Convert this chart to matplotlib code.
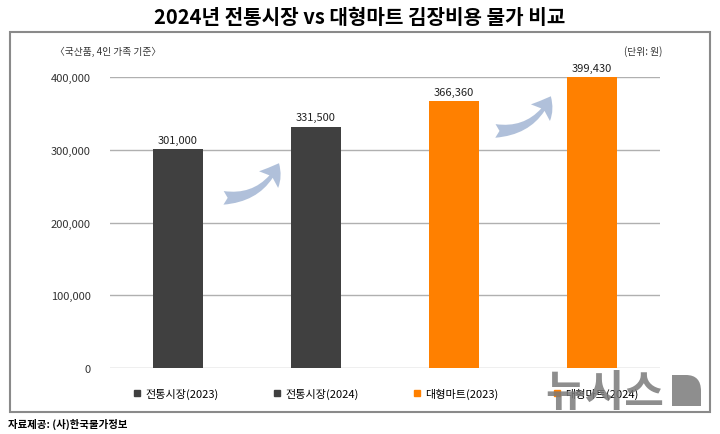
import matplotlib.pyplot as plt
from matplotlib.patches import Rectangle, FancyArrowPatch, PathPatch
from matplotlib.path import Path
from matplotlib.lines import Line2D

plt.rcParams['font.family'] = ['Noto Sans CJK KR', 'DejaVu Sans']

# Data
categories = ['전통시장(2023)', '전통시장(2024)', '대형마트(2023)', '대형마트(2024)']
values = [301000, 331500, 366360, 399430]
colors = ['#404040', '#404040', '#ff8000', '#ff8000']
yticks = [0, 100000, 200000, 300000, 400000]

W, H = 720, 435
fig = plt.figure(figsize=(7.2, 4.35), dpi=100)


def fx(px):
    return px / W


def fy(py):
    return 1 - py / H


# outer frame
fig.add_artist(Rectangle((fx(10), fy(413)), 700 / W, 380 / H,
                         transform=fig.transFigure, fill=False,
                         edgecolor='#8a8a8a', linewidth=1.5))

ax = fig.add_axes([fx(110), fy(369), 550 / W, 291 / H])
x = list(range(len(values)))
ax.bar(x, values, width=0.36, color=colors, zorder=3)
for xi, v in zip(x, values):
    ax.text(xi, v + 6000, f'{v:,}', ha='center', va='bottom', fontsize=8, color='#222222')

ax.set_xlim(-0.493, 3.493)
ax.set_ylim(0, 400000)
ax.set_yticks(yticks)
ax.set_yticklabels([f'{t:,}' for t in yticks], fontsize=8, color='#333333')
ax.tick_params(axis='y', length=0, pad=14)
ax.set_xticks([])
ax.grid(axis='y', color='#b0b0b0', linewidth=1, zorder=0)
for s in ax.spines.values():
    s.set_visible(False)

# curved arrows
for (x0, y0), (x1, y1) in [((0.31, 234000), (0.74, 285000)),
                           ((2.28, 326000), (2.71, 377000))]:
    ax.add_patch(FancyArrowPatch((x0, y0), (x1, y1), connectionstyle='arc3,rad=0.35',
                                 arrowstyle='fancy,head_width=1.3,head_length=1.0,tail_width=0.7',
                                 mutation_scale=14, color='#a8bad6', alpha=0.9, lw=0, zorder=4))

# legend
handles = [Line2D([], [], marker='s', linestyle='none', markersize=5, color=c) for c in colors]
ax.legend(handles, categories, ncol=4, loc='upper center', bbox_to_anchor=(0.5, -0.035),
          frameon=False, fontsize=8, handletextpad=0.3, columnspacing=4.7, handlelength=1)

# title and notes
fig.text(0.5, fy(17), '2024년 전통시장 vs 대형마트 김장비용 물가 비교',
         ha='center', va='center', fontsize=14.5, fontweight='bold')
fig.text(fx(55), fy(52), '〈국산품, 4인 가족 기준〉', ha='left', va='center',
         fontsize=7, color='#333333')
fig.text(fx(662), fy(52), '(단위: 원)', ha='right', va='center',
         fontsize=7, color='#333333')
fig.text(fx(8), fy(424), '자료제공: (사)한국물가정보', ha='left', va='center',
         fontsize=7.5, fontweight='bold')

# watermark
fig.text(fx(605), fy(393), '뉴시스', ha='center', va='center', fontsize=31,
         fontweight='bold', color='#7a7a7a', alpha=0.85)
d_verts = [(672, 407), (672, 376), (686, 376), (701, 376), (701, 392), (701, 407), (672, 407)]
d_codes = [Path.MOVETO, Path.LINETO, Path.LINETO, Path.CURVE3, Path.CURVE3, Path.LINETO,
           Path.CLOSEPOLY]
d_path = Path([(fx(a), fy(b)) for a, b in d_verts], d_codes)
fig.add_artist(PathPatch(d_path, transform=fig.transFigure, color='#7a7a7a', alpha=0.85, lw=0))

fig.savefig('out.png', dpi=100)
